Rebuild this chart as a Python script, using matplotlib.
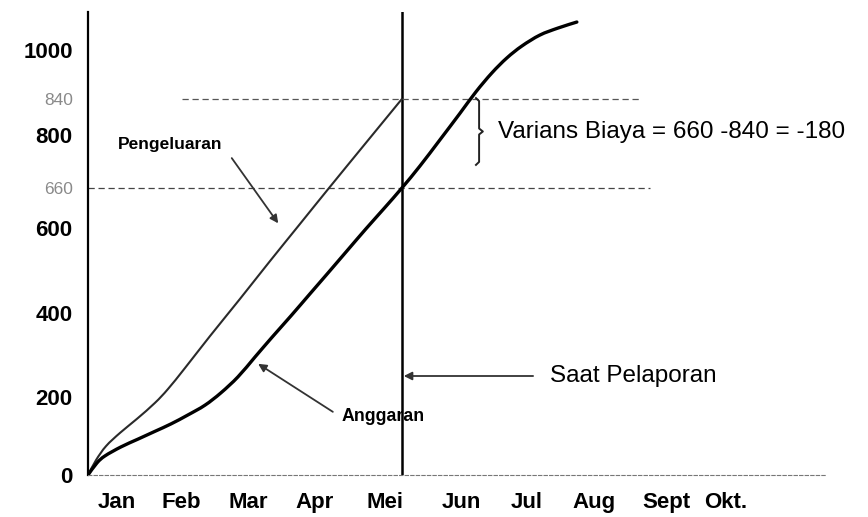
import numpy as np
import matplotlib
matplotlib.use("Agg")
import matplotlib.pyplot as plt
from matplotlib.path import Path
from matplotlib.patches import PathPatch

plt.rcParams["font.family"] = ["Liberation Sans", "DejaVu Sans"]

# Month labels along the time axis
months = ["Jan", "Feb", "Mar", "Apr", "Mei", "Jun", "Jul", "Aug", "Sept", "Okt."]

# Cumulative spending (Pengeluaran) against time in months
t_pengeluaran = [0, 0.127, 0.287, 0.510, 0.780, 1.067, 1.274, 1.545, 1.943,
                 2.420, 2.898, 3.376, 3.854, 4.411, 5.0]
v_pengeluaran = [0, 38, 74, 108, 144, 185, 219, 269, 345,
                 433, 522, 606, 663, 776, 840]

# Cumulative budget (Anggaran) against time in months
t_anggaran = [0, 0.143, 0.271, 0.525, 0.796, 1.067, 1.322, 1.592, 1.863,
              2.118, 2.389, 2.659, 2.930, 3.232, 3.535, 3.822, 4.124, 4.427,
              4.713, 5.0, 5.287, 5.605, 5.924, 6.178, 6.433, 6.672, 6.911,
              7.197, 7.484, 7.787]
v_anggaran = [0, 31, 49, 72, 92, 112, 131, 154, 179,
              210, 248, 295, 342, 393, 445, 494, 546, 598,
              629, 660, 718, 787, 824, 863, 925, 974, 1013,
              1049, 1072, 1092]

report_month = 5.0          # reporting moment (end of May)
actual_at_report = 840      # spending at the reporting moment
budget_at_report = 660      # budget at the reporting moment
variance = budget_at_report - actual_at_report

y_ticks = [0, 200, 400, 600, 660, 800, 840, 1000]

# Hand-drawn value axis: uneven spacing between the labelled levels
KNOT_V = [-1000, 0, 200, 400, 600, 660, 800, 840, 1000, 1125, 3000]
KNOT_H = [-390, 0, 78, 162, 247, 287, 340, 376, 425, 463, 1025.5]


def fwd(v):
    return np.interp(v, KNOT_V, KNOT_H)


def inv(h):
    return np.interp(h, KNOT_H, KNOT_V)


def smooth_path(t, v, xscale=62.8):
    """Catmull-Rom curve through the points, built as cubic Bezier segments
    in the axis' drawing space so the line bends smoothly."""
    x = np.asarray(t, float) * xscale
    y = fwd(np.asarray(v, float))
    n = len(x)
    verts = [(t[0], v[0])]
    codes = [Path.MOVETO]
    for i in range(n - 1):
        x0, y0 = (x[i - 1], y[i - 1]) if i > 0 else (x[i], y[i])
        x1, y1 = x[i], y[i]
        x2, y2 = x[i + 1], y[i + 1]
        x3, y3 = (x[i + 2], y[i + 2]) if i + 2 < n else (x2, y2)
        c1 = (x1 + (x2 - x0) / 6, y1 + (y2 - y0) / 6)
        c2 = (x2 - (x3 - x1) / 6, y2 - (y3 - y1) / 6)
        for cx, cy in (c1, c2, (x2, y2)):
            verts.append((cx / xscale, float(inv(cy))))
            codes.append(Path.CURVE4)
    return Path(verts, codes)


fig = plt.figure(figsize=(8.68, 5.17), dpi=100)
ax = fig.add_axes([88 / 868, 42 / 517, (825 - 88) / 868, (505 - 42) / 517])
ax.set_yscale("function", functions=(fwd, inv))
ax.set_xlim(0, 11.74)
ax.set_ylim(0, 1125)

# Curves
ax.add_patch(PathPatch(smooth_path(t_pengeluaran, v_pengeluaran), fill=False,
                       edgecolor="#2a2a2a", lw=1.5, capstyle="round", zorder=3))
ax.add_patch(PathPatch(smooth_path(t_anggaran, v_anggaran), fill=False,
                       edgecolor="black", lw=2.4, capstyle="round", zorder=3))

# Reporting-date line
ax.axvline(report_month, color="black", lw=1.8, zorder=2)

# Reference levels at the reporting moment
ax.hlines(actual_at_report, 1.5, 8.79, colors="#555555", lw=0.9,
          linestyles=(0, (5, 3)))
ax.hlines(budget_at_report, 0, 8.95, colors="#444444", lw=0.9,
          linestyles=(0, (5, 3)))

# Spines
for s in ("top", "right"):
    ax.spines[s].set_visible(False)
ax.spines["left"].set_color("black")
ax.spines["left"].set_linewidth(1.6)
ax.spines["bottom"].set_color("#777777")
ax.spines["bottom"].set_linewidth(0.8)
ax.spines["bottom"].set_linestyle((0, (3, 2)))

# Ticks
ax.set_yticks(y_ticks)
ax.set_yticklabels([str(v) for v in y_ticks])
ax.tick_params(axis="y", length=0, pad=11)
for lab, v in zip(ax.get_yticklabels(), y_ticks):
    if v in (actual_at_report, budget_at_report):
        lab.set_color("#8a8a8a")
        lab.set_fontsize(12.5)
        lab.set_fontweight("normal")
    else:
        lab.set_fontsize(16)
        lab.set_fontweight("bold")

month_pos = [0.46, 1.48, 2.55, 3.61, 4.73, 5.95, 6.99, 8.06, 9.22, 10.16]
ax.set_xticks(month_pos)
ax.set_xticklabels(months, fontsize=16, fontweight="bold")
ax.tick_params(axis="x", length=0, pad=12)

# Variance bracket between the two levels
bx = 6.23
b_top = actual_at_report + 3
b_bot = 721
b_mid = inv((fwd(b_top) + fwd(b_bot)) / 2)
ax.plot([bx - 0.05, bx, bx, bx + 0.06, bx, bx, bx - 0.05],
        [b_top, inv(fwd(b_top) - 3), inv(fwd(b_mid) + 3), b_mid,
         inv(fwd(b_mid) - 3), inv(fwd(b_bot) + 3), b_bot],
        color="#222222", lw=1.4)
ax.text(6.53, 803, f"Varians Biaya = {budget_at_report} -{actual_at_report} = {variance}",
        fontsize=17.5, va="center", ha="left")

# Labels with pointers
arrow_kw = dict(arrowstyle="-|>", color="#333333", lw=1.3, mutation_scale=12,
                shrinkA=0, shrinkB=0)
ax.text(0.48, 774, "Pengeluaran", fontsize=12.5, fontweight="bold",
        va="center", ha="left")
ax.annotate("", xy=(3.03, 607), xytext=(2.29, 739), arrowprops=arrow_kw)

ax.text(4.04, 151, "Anggaran", fontsize=12.8, fontweight="bold",
        va="center", ha="left")
ax.annotate("", xy=(2.71, 279), xytext=(3.9, 162), arrowprops=arrow_kw)

ax.text(7.36, 250, "Saat Pelaporan", fontsize=17.5, va="center", ha="left")
ax.annotate("", xy=(5.03, 250), xytext=(7.09, 250), arrowprops=arrow_kw)

fig.savefig("out.png", dpi=100)
